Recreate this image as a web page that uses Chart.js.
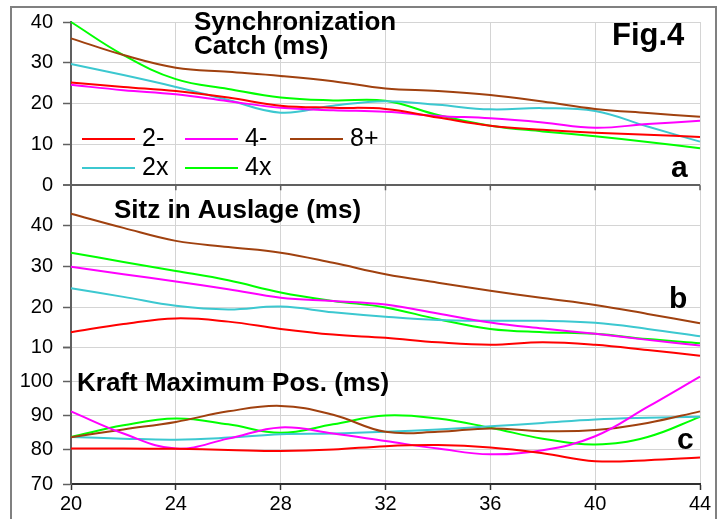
<!DOCTYPE html>
<html>
<head>
<meta charset="utf-8">
<script src="https://cdn.jsdelivr.net/npm/chart.js@4.4.1/dist/chart.umd.min.js"></script>
<style>
html, body { margin: 0; padding: 0; background: #fff; }
</style>
</head>
<body>
<canvas id="fig4" width="728" height="519"></canvas>
<script>
// stroke rate, shared by every curve
const strokeRates = [20, 22, 24, 26, 28, 30, 32, 34, 36, 38, 40, 42, 44]
const boatClasses = ['2-', '4-', '8+', '2x', '4x']
const classColors = ['#ff0000', '#ff00ff', '#a0410f', '#3cc8d0', '#00ff00']

// a: Synchronization Catch (ms)
const syncCatch2m = [25.2, 24.1, 23.1, 21.5, 19.5, 19.0, 18.7, 16.6, 14.6, 13.6, 12.9, 12.4, 11.8]
const syncCatch4m = [24.6, 23.3, 22.3, 20.6, 19.0, 18.4, 18.0, 17.0, 16.4, 15.4, 14.1, 15.0, 15.8]
const syncCatch8p = [36.0, 31.9, 28.8, 27.8, 26.8, 25.5, 23.7, 23.1, 22.1, 20.5, 18.7, 17.7, 16.8]
const syncCatch2x = [29.7, 27.0, 24.1, 20.9, 17.8, 19.5, 20.6, 19.7, 18.6, 18.9, 18.2, 14.4, 10.7]
const syncCatch4x = [40.0, 31.9, 26.0, 23.6, 21.5, 20.8, 20.7, 17.2, 14.6, 13.2, 12.0, 10.6, 9.1]

// b: Sitz in Auslage (ms)
const sitz2m = [13.8, 15.8, 17.2, 16.4, 14.6, 13.2, 12.4, 11.3, 10.7, 11.3, 10.7, 9.4, 8.0]
const sitz4m = [29.9, 28.1, 26.3, 24.4, 22.3, 21.5, 20.6, 18.4, 16.2, 14.7, 13.4, 11.9, 10.5]
const sitz8p = [43.0, 39.5, 36.3, 34.8, 33.4, 30.9, 28.1, 26.0, 24.0, 22.2, 20.5, 18.3, 16.0]
const sitz2x = [24.6, 22.5, 20.3, 19.4, 20.1, 18.7, 17.6, 16.8, 16.6, 16.6, 16.1, 14.6, 12.8]
const sitz4x = [33.4, 31.1, 28.9, 26.6, 23.6, 21.5, 19.9, 17.0, 14.6, 13.8, 13.4, 12.1, 11.1]

// c: Kraft Maximum Pos. (ms)
const kraft2m = [80.4, 80.4, 80.3, 80.0, 79.7, 80.1, 81.1, 81.4, 80.7, 79.0, 76.7, 77.0, 77.8]
const kraft4m = [91.3, 84.8, 80.4, 83.3, 86.6, 84.8, 82.6, 80.4, 78.7, 79.9, 84.0, 92.6, 101.5]
const kraft8p = [83.7, 86.0, 88.2, 91.3, 92.9, 90.3, 85.3, 85.3, 86.3, 85.5, 85.8, 87.9, 91.3]
const kraft2x = [83.8, 83.3, 83.0, 83.6, 84.6, 84.8, 85.3, 86.0, 86.9, 87.9, 88.9, 89.4, 89.7]
const kraft4x = [83.8, 87.2, 89.2, 87.5, 85.0, 87.5, 90.1, 89.2, 86.5, 83.3, 81.6, 83.8, 89.7]

const panels = [
    {axis: 'yA', series: [syncCatch2m, syncCatch4m, syncCatch8p, syncCatch2x, syncCatch4x]},
    {axis: 'yB', series: [sitz2m, sitz4m, sitz8p, sitz2x, sitz4x]},
    {axis: 'yC', series: [kraft2m, kraft4m, kraft8p, kraft2x, kraft4x]}
]

const GRID = '#d4d4d4'
const AXIS = '#606060'
const FONT = 'Liberation Sans, Arial, sans-serif'

let datasets = []
panels.forEach(p => {
    p.series.forEach((vals, i) => {
        datasets.push({
            label: boatClasses[i],
            yAxisID: p.axis,
            data: strokeRates.map((x, k) => ({x: x, y: vals[k]})),
            borderColor: classColors[i],
            backgroundColor: classColors[i],
            borderWidth: 2,
            pointRadius: 0,
            tension: 0.4,
            fill: false,
            clip: false  // curves may spill a little over the panel edge, as in the original
        })
    })
})

function yScale(min, max, weight, hideTop, darkValue)
{
    return {
        type: 'linear',
        position: 'left',
        stack: 'panels',
        stackWeight: weight,
        min: min,
        max: max,
        ticks: {
            stepSize: 10,
            padding: 10,
            autoSkip: false,
            color: '#000',
            font: {family: FONT, size: 20},
            callback: v => (hideTop && v === max) ? '' : v
        },
        grid: {
            color: ctx => (ctx.tick && ctx.tick.value === darkValue) ? AXIS : GRID,
            lineWidth: ctx => (ctx.tick && ctx.tick.value === darkValue) ? 2 : 1,
            tickLength: 8,
            tickColor: AXIS,
            tickWidth: 1.5
        },
        border: {color: AXIS, width: 2},
        afterFit: s => { s.width = 71 }
    }
}

// frame, titles, panel letters and the legend
const annotate = {
    id: 'annotate',
    beforeDraw(chart) {
        const ctx = chart.ctx
        ctx.save()
        ctx.fillStyle = '#fff'
        ctx.fillRect(0, 0, chart.width, chart.height)
        ctx.strokeStyle = '#808080'
        ctx.lineWidth = 2
        ctx.strokeRect(11, 7, 705, 600)
        ctx.restore()
    },
    afterDraw(chart) {
        const ctx = chart.ctx
        const xs = chart.scales.x
        const yBottomA = chart.scales.yA.bottom
        ctx.save()
        // small ticks under panel a
        ctx.strokeStyle = AXIS
        ctx.lineWidth = 1.5
        strokeRates.filter(v => v % 4 === 0).forEach(v => {
            const px = xs.getPixelForValue(v)
            ctx.beginPath()
            ctx.moveTo(px, yBottomA)
            ctx.lineTo(px, yBottomA + 5)
            ctx.stroke()
        })

        ctx.fillStyle = '#000'
        ctx.textBaseline = 'alphabetic'
        ctx.textAlign = 'left'
        ctx.font = 'bold 26px ' + FONT
        ctx.fillText('Synchronization', 194, 30)
        ctx.fillText('Catch (ms)', 194, 54)
        ctx.fillText('Sitz in Auslage (ms)', 114, 218)
        ctx.fillText('Kraft Maximum Pos. (ms)', 77, 391)

        ctx.font = 'bold 31px ' + FONT
        ctx.fillText('Fig.4', 612, 45)
        ctx.font = 'bold 30px ' + FONT
        ctx.fillText('a', 671, 177)
        ctx.fillText('b', 669, 308)
        ctx.fillText('c', 677, 449)

        // legend
        const cols = [82, 185, 290]
        const rows = [139, 168]
        ctx.font = '25px ' + FONT
        ctx.lineWidth = 2
        boatClasses.forEach((name, i) => {
            const cx = cols[i % 3]
            const cy = rows[Math.floor(i / 3)]
            ctx.strokeStyle = classColors[i]
            ctx.beginPath()
            ctx.moveTo(cx, cy)
            ctx.lineTo(cx + 53, cy)
            ctx.stroke()
            ctx.fillText(name, cx + 60, cy + 7)
        })
        ctx.restore()
    }
}

new Chart(document.getElementById('fig4').getContext('2d'), {
    type: 'line',
    data: {datasets: datasets},
    options: {
        responsive: false,
        animation: false,
        layout: {padding: {left: 0, top: 20, right: 28, bottom: 0}},
        plugins: {legend: {display: false}, tooltip: {enabled: false}, title: {display: false}},
        scales: {
            x: {
                type: 'linear',
                min: 20,
                max: 44,
                ticks: {
                    stepSize: 4,
                    padding: 2,
                    autoSkip: false,
                    color: '#000',
                    maxRotation: 0,
                    font: {family: FONT, size: 20}
                },
                grid: {color: GRID, tickLength: 6, tickColor: '#303030', tickWidth: 1.5},
                border: {color: '#303030', width: 2},
                afterFit: s => { s.height = 35 }
            },
            yC: yScale(70, 110, 137, true, null),
            yB: yScale(10, 50, 163, true, 50),
            yA: yScale(0, 40, 164, false, 0)
        }
    },
    plugins: [annotate]
})
</script>
</body>
</html>
